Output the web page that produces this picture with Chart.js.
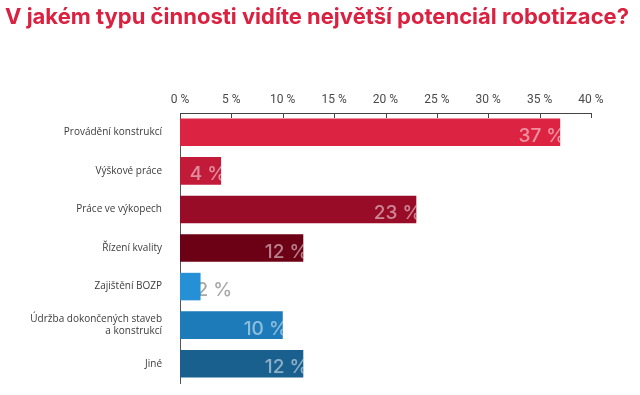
<!DOCTYPE html>
<html lang="cs">
  <head>
    <meta charset="UTF-8" />
    <title>Potenciál robotizace</title>
    <style>
      html, body { margin: 0; padding: 0; background: #fff; }
      #wrap { width: 640px; height: 395px; }
    </style>
  </head>
  <body>
    <div id="wrap"><canvas id="myChart" width="640" height="395"></canvas></div>
    <script src="https://cdn.jsdelivr.net/npm/chart.js@4/dist/chart.umd.min.js"></script>
    <script>
      var titleText = "V jakém typu činnosti vidíte největší potenciál robotizace?";
      var categories = [
        "Provádění konstrukcí",
        "Výškové práce",
        "Práce ve výkopech",
        "Řízení kvality",
        "Zajištění BOZP",
        ["Údržba dokončených staveb", "a konstrukcí"],
        "Jiné"
      ];
      var values = [37, 4, 23, 12, 2, 10, 12];
      var barColors = ["#dc2341", "#c21b3a", "#980c28", "#6c0015", "#2590d6", "#1e7bb9", "#19608f"];
      var tickMax = 40;
      var tickStep = 5;

      var labelFont = "500 19px Inter";

      // title is stretched to run across the whole width like in the original
      var titleFamily = "Inter";
      var titleWidth = 626;
      var measureCtx = document.createElement("canvas").getContext("2d");
      measureCtx.font = "700 20px " + titleFamily;
      var titleSize = Math.floor(20 * titleWidth / measureCtx.measureText(titleText).width * 10) / 10;

      // value labels: inside the bar, clipped at the bar end; short bars get it outside, under the bar
      function labelInside(bar, w) {
        return bar.x + 5 - w >= bar.base + 2;
      }

      var valueLabels = {
        id: "valueLabels",
        beforeDatasetsDraw: function (chart) {
          var ctx = chart.ctx;
          var meta = chart.getDatasetMeta(0);
          ctx.save();
          ctx.font = labelFont;
          meta.data.forEach(function (bar, i) {
            var txt = values[i] + " %";
            var w = ctx.measureText(txt).width;
            if (labelInside(bar, w)) return;
            ctx.fillStyle = "#a8a8a8";
            ctx.textAlign = "left";
            ctx.fillText(txt, bar.x - 4, bar.y + 9.5);
          });
          ctx.restore();
        },
        afterDatasetsDraw: function (chart) {
          var ctx = chart.ctx;
          var meta = chart.getDatasetMeta(0);
          ctx.save();
          ctx.font = labelFont;
          meta.data.forEach(function (bar, i) {
            var txt = values[i] + " %";
            var w = ctx.measureText(txt).width;
            if (!labelInside(bar, w)) return;
            ctx.save();
            ctx.beginPath();
            ctx.rect(bar.base, bar.y - bar.height / 2, bar.x - bar.base, bar.height);
            ctx.clip();
            ctx.fillStyle = "rgba(255,255,255,0.5)";
            ctx.textAlign = "right";
            ctx.fillText(txt, bar.x + 5, bar.y + 9.5);
            ctx.restore();
          });
          ctx.restore();
        }
      };

      // tick marks hanging down from the top axis line
      var innerTicks = {
        id: "innerTicks",
        afterDraw: function (chart) {
          var ctx = chart.ctx;
          var xs = chart.scales.x;
          var top = chart.chartArea.top;
          ctx.save();
          ctx.strokeStyle = "#444";
          ctx.lineWidth = 1;
          xs.ticks.forEach(function (t, i) {
            var px = Math.round(xs.getPixelForTick(i)) + 0.5;
            ctx.beginPath();
            ctx.moveTo(px, top);
            ctx.lineTo(px, top + 5);
            ctx.stroke();
          });
          ctx.restore();
        }
      };

      var ctx = document.getElementById("myChart").getContext("2d");
      var myChart = new Chart(ctx, {
        type: "bar",
        data: {
          labels: categories,
          datasets: [
            {
              data: values,
              backgroundColor: barColors,
              borderWidth: 0,
              categoryPercentage: 0.714,
              barPercentage: 1
            }
          ]
        },
        options: {
          indexAxis: "y",
          responsive: false,
          animation: false,
          layout: { padding: { left: 5, right: 8, top: 0, bottom: 12 } },
          plugins: {
            legend: { display: false },
            tooltip: { enabled: false },
            title: {
              display: true,
              text: titleText,
              align: "start",
              color: "#da2140",
              font: { family: titleFamily, size: titleSize, weight: "700", lineHeight: 1.2 },
              padding: { top: 4, bottom: 0 }
            }
          },
          scales: {
            x: {
              position: "top",
              min: 0,
              max: tickMax,
              ticks: {
                stepSize: tickStep,
                color: "#4a4a4a",
                font: { family: "'Liberation Sans Narrow', 'Roboto'", size: 12 },
                padding: 6,
                callback: function (v) { return v + " %"; }
              },
              grid: { display: false, drawTicks: false },
              border: { display: true, color: "#444", width: 1 },
              afterFit: function (scale) {
                scale.height = 113 - 4 - titleSize * 1.2;
                scale.paddingLeft = 0;
                scale.paddingRight = 49;
              }
            },
            y: {
              ticks: {
                color: "#3b3b3b",
                font: { family: "'Open Sans'", size: 10 },
                padding: 18
              },
              grid: { display: false, drawTicks: false },
              border: { display: true, color: "#555", width: 1 },
              afterFit: function (scale) {
                scale.width = 175;
                scale.paddingTop = 0;
                scale.paddingBottom = 0;
              }
            }
          }
        },
        plugins: [valueLabels, innerTicks]
      });
    </script>
  </body>
</html>
